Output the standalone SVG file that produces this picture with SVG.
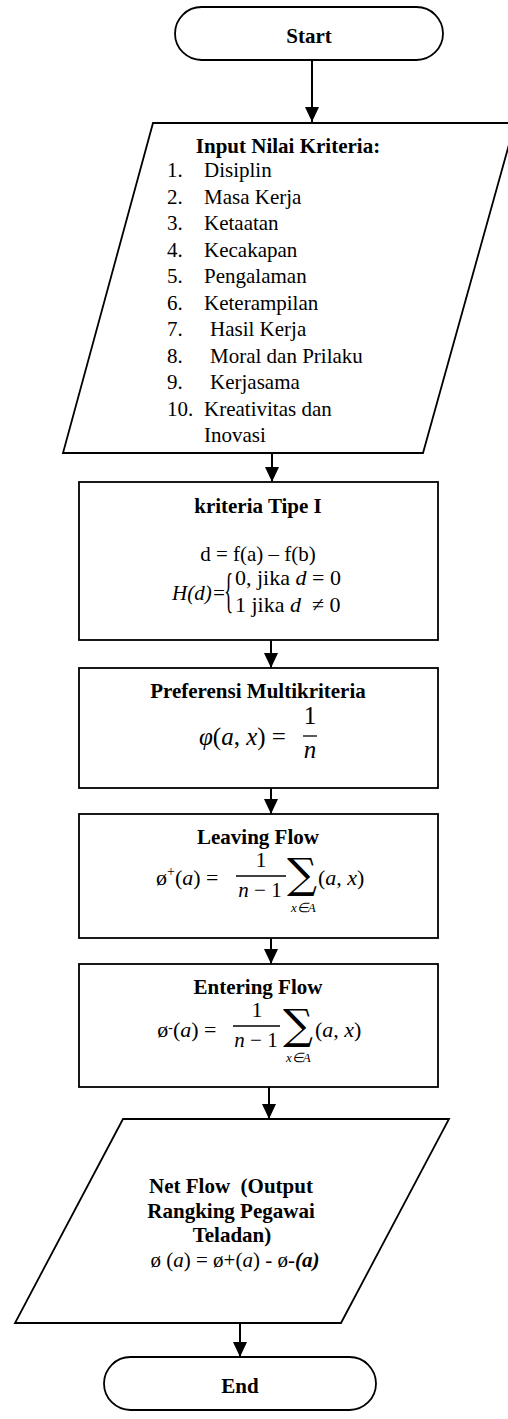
<svg xmlns="http://www.w3.org/2000/svg" width="508" height="1419" viewBox="0 0 508 1419">
  <style>
    .shape { fill: #ffffff; stroke: #000000; stroke-width: 1.8; }
    .edge { fill: none; stroke: #000000; stroke-width: 2; }
    .t { font-family: "Liberation Serif", "Times New Roman", serif; fill: #000000; font-size: 21px; }
    .b { font-weight: bold; font-size: 21px; }
    .m { text-anchor: middle; }
    .i { font-style: italic; }
    .mx { font-size: 22px; }
    .big { font-size: 25px; }
    .sig { font-family: "DejaVu Serif", "Liberation Serif", serif; font-size: 42px; }
    .sub { font-size: 13px; font-style: italic; }
    .brace { font-size: 48px; }
    .bar { stroke: #000000; stroke-width: 1.3; }
  </style>
  <defs>
    <marker id="arrow" markerUnits="userSpaceOnUse" markerWidth="16" markerHeight="16" refX="15" refY="7" orient="auto">
      <path d="M0,0 L15,7 L0,14 Z" fill="#000000"/>
    </marker>
  </defs>

  <!-- connectors -->
  <g id="connectors">
    <path class="edge" d="M312,61 V122" marker-end="url(#arrow)"/>
    <path class="edge" d="M272,453 V482" marker-end="url(#arrow)"/>
    <path class="edge" d="M271,640 V668" marker-end="url(#arrow)"/>
    <path class="edge" d="M271,788 V814" marker-end="url(#arrow)"/>
    <path class="edge" d="M271,938 V964" marker-end="url(#arrow)"/>
    <path class="edge" d="M269,1087 V1119" marker-end="url(#arrow)"/>
    <path class="edge" d="M240,1323 V1357" marker-end="url(#arrow)"/>
  </g>

  <!-- start terminator -->
  <g id="start">
    <rect class="shape" x="175" y="7" width="268" height="53" rx="26.5" ry="26.5"/>
    <text class="t b m" x="309" y="43">Start</text>
  </g>

  <!-- input data -->
  <g id="input">
    <polygon class="shape" points="153,123 515,123 423,453 63,453"/>
    <text class="t b m" x="288" y="153">Input Nilai Kriteria:</text>
    <g class="t">
      <text x="167" y="177">1.</text><text x="204" y="177">Disiplin</text>
      <text x="167" y="203.5">2.</text><text x="204" y="203.5">Masa Kerja</text>
      <text x="167" y="230">3.</text><text x="204" y="230">Ketaatan</text>
      <text x="167" y="256.5">4.</text><text x="204" y="256.5">Kecakapan</text>
      <text x="167" y="283">5.</text><text x="204" y="283">Pengalaman</text>
      <text x="167" y="309.5">6.</text><text x="204" y="309.5">Keterampilan</text>
      <text x="167" y="336">7.</text><text x="210" y="336">Hasil Kerja</text>
      <text x="167" y="362.5">8.</text><text x="210" y="362.5">Moral dan Prilaku</text>
      <text x="167" y="389">9.</text><text x="210" y="389">Kerjasama</text>
      <text x="167" y="415.5">10.</text><text x="204" y="415.5">Kreativitas dan</text>
      <text x="204" y="442">Inovasi</text>
    </g>
  </g>

  <!-- preference function type I -->
  <g id="kriteria">
    <rect class="shape" x="79" y="482" width="359" height="158"/>
    <text class="t b m" x="258" y="513">kriteria Tipe I</text>
    <text class="t m" x="258" y="561">d = f(a) – f(b)</text>
    <text class="t i" x="172" y="600">H(d)=</text>
    <text class="t brace" transform="translate(224,607) scale(0.4,1)">{</text>
    <text class="t mx" x="235" y="585">0, jika <tspan class="i">d</tspan> = 0</text>
    <text class="t mx" x="235" y="612">1 jika <tspan class="i">d</tspan>&#160;&#160;≠ 0</text>
  </g>

  <!-- multicriteria preference -->
  <g id="preferensi">
    <rect class="shape" x="79" y="668" width="359" height="120"/>
    <text class="t b m" x="258" y="698">Preferensi Multikriteria</text>
    <text class="t big" x="199" y="745"><tspan class="i">φ</tspan>(<tspan class="i">a</tspan>, <tspan class="i">x</tspan>) =</text>
    <text class="t m big" x="310" y="724">1</text>
    <line class="bar" x1="303" y1="736" x2="317" y2="736"/>
    <text class="t m i big" x="310" y="758">n</text>
  </g>

  <!-- leaving flow -->
  <g id="leaving">
    <rect class="shape" x="79" y="814" width="359" height="124"/>
    <text class="t b m" x="258" y="844">Leaving Flow</text>
    <text class="t mx" x="224" y="885" text-anchor="end">ø<tspan font-size="14" dy="-9">+</tspan><tspan dy="9">(</tspan><tspan class="i">a</tspan>) =&#160;</text>
    <text class="t m mx" x="261" y="867">1</text>
    <line class="bar" x1="236" y1="876" x2="286" y2="876"/>
    <text class="t m" x="260" y="897"><tspan class="i">n</tspan> − 1</text>
    <text class="t sig" x="287" y="888">∑</text>
    <text class="t mx" x="318" y="885">(<tspan class="i">a</tspan>, <tspan class="i">x</tspan>)</text>
    <text class="t sub" x="291" y="912">x∈A</text>
  </g>

  <!-- entering flow -->
  <g id="entering">
    <rect class="shape" x="79" y="964" width="359" height="123"/>
    <text class="t b m" x="258" y="994">Entering Flow</text>
    <text class="t mx" x="222" y="1037" text-anchor="end">ø<tspan font-size="14" dy="-5">-</tspan><tspan dy="5">(</tspan><tspan class="i">a</tspan>) =&#160;</text>
    <text class="t m mx" x="257" y="1017">1</text>
    <line class="bar" x1="233" y1="1026" x2="280" y2="1026"/>
    <text class="t m" x="256" y="1047"><tspan class="i">n</tspan> − 1</text>
    <text class="t sig" x="283" y="1039">∑</text>
    <text class="t mx" x="315" y="1037">(<tspan class="i">a</tspan>, <tspan class="i">x</tspan>)</text>
    <text class="t sub" x="286" y="1062">x∈A</text>
  </g>

  <!-- net flow output -->
  <g id="netflow">
    <polygon class="shape" points="123,1119 449,1119 341,1323 15,1323"/>
    <text class="t b m" x="231" y="1193">Net Flow&#160; (Output</text>
    <text class="t b m" x="231" y="1218">Rangking Pegawai</text>
    <text class="t b m" x="232" y="1242">Teladan)</text>
    <text class="t m" x="235" y="1267">ø (<tspan class="i">a</tspan>) = ø+(<tspan class="i">a</tspan>) - ø-<tspan class="i" font-weight="bold">(a)</tspan></text>
  </g>

  <!-- end terminator -->
  <g id="end">
    <rect class="shape" x="104" y="1357" width="272" height="53" rx="26.5" ry="26.5"/>
    <text class="t b m" x="240" y="1393">End</text>
  </g>
</svg>
